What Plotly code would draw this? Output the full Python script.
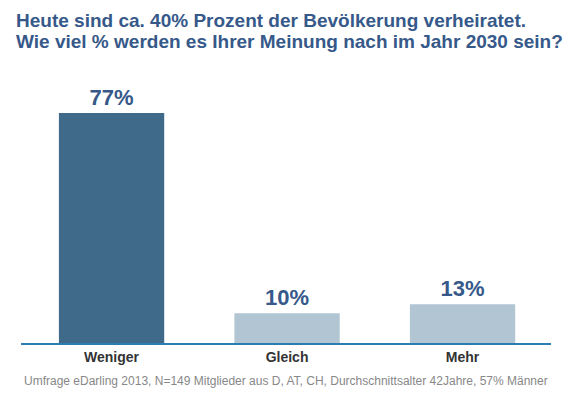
import plotly.graph_objects as go

categories = ["Weniger", "Gleich", "Mehr"]
values = [77, 10, 13]
labels = ["77%", "10%", "13%"]
colors = ["#406a89", "#b1c5d3", "#b1c5d3"]

title_lines = ["Heute sind ca. 40% Prozent der Bevölkerung verheiratet.",
               "Wie viel % werden es Ihrer Meinung nach im Jahr 2030 sein?"]
footer = "Umfrage eDarling 2013, N=149 Mitglieder aus D, AT, CH, Durchschnittsalter 42Jahre, 57% Männer"

W, H = 572, 399
L, R, T, B = 21, 21, 104, 56
pw, ph = W - L - R, H - T - B


def px_x(x):
    return (x - L) / pw


def px_y(y):
    return (H - B - y) / ph


fig = go.Figure(go.Bar(
    x=list(range(len(categories))), y=values, width=0.6,
    marker=dict(color=colors, line=dict(width=0)),
    text=labels, textposition="outside", cliponaxis=False,
    textfont=dict(family="Liberation Sans Narrow, Arial Narrow, Liberation Sans", size=22,
                  color="#36598a", weight="bold"),
    hoverinfo="skip",
))

annotations = []
for i, line in enumerate(title_lines):
    annotations.append(dict(
        text=line, x=px_x(14), y=px_y(20 + 21.5 * i), xref="paper", yref="paper",
        showarrow=False, align="left", xanchor="left", yanchor="middle",
        font=dict(size=19, color="#36598a", weight="bold")))
annotations.append(dict(
    text=footer, x=px_x(286), y=px_y(381), xref="paper", yref="paper",
    showarrow=False, xanchor="center", yanchor="middle",
    font=dict(size=12, color="#888888")))

fig.update_layout(
    width=W, height=H,
    margin=dict(l=L, r=R, t=T, b=B, pad=0),
    paper_bgcolor="white", plot_bgcolor="white",
    showlegend=False,
    font=dict(family="Liberation Sans, Arial, sans-serif"),
    xaxis=dict(range=[-0.516, 2.504], tickvals=[0, 1, 2], ticktext=categories,
               showgrid=False, zeroline=False, showline=True, linecolor="#2a7db0",
               linewidth=2, ticks="", ticklen=0, automargin=False,
               tickfont=dict(size=14, color="#333333", weight="bold")),
    yaxis=dict(range=[0, 80], visible=False, showgrid=False, zeroline=False),
    annotations=annotations,
)

fig.write_html("out.html", config={"displayModeBar": False, "staticPlot": True},
               post_script="document.body.style.margin='0';document.body.style.padding='0';")
